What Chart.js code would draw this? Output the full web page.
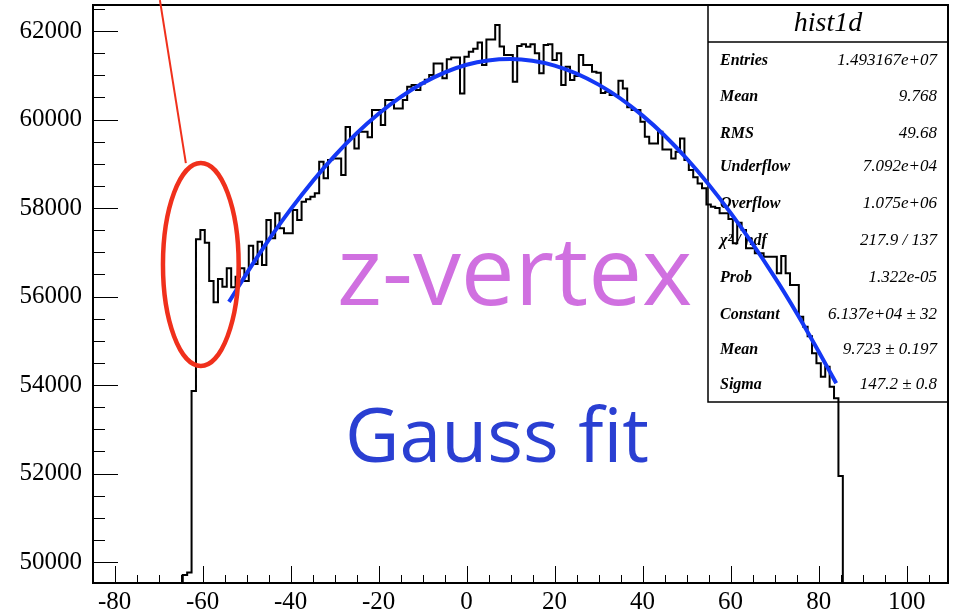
<!DOCTYPE html>
<html>
<head>
<meta charset="utf-8">
<script src="https://cdn.jsdelivr.net/npm/chart.js@4.4.1/dist/chart.umd.min.js"></script>
<style>
    html, body { margin: 0; padding: 0; background: #fff; }
    canvas { display: block; }
</style>
</head>
<body>
<canvas id="graficoVertice" width="960" height="613"></canvas>
<script>
// histograma: centro del primer bin con contenido y ancho de bin
const binStart = -64;
const binWidth = 1;
const counts = [
    49706, 49760, 53865, 57293, 57503, 57216, 56351, 55869, 56396, 56222,
    56638, 56208, 56450, 56640, 56350, 57148, 56735, 57239, 56712, 57729,
    57316, 57880, 57541, 57428, 57428, 57955, 57729, 58143, 58197, 58256,
    58333, 59047, 58672, 59085, 59123, 59123, 58746, 59830, 59598, 59349,
    59725, 59725, 59598, 60215, 60215, 59876, 60441, 60441, 60253, 60253,
    60441, 60743, 60780, 60667, 60818, 60900, 61006, 61270, 61270, 60932,
    61361, 61406, 61406, 60592, 61420, 61533, 61600, 61744, 61232, 61812,
    61812, 62136, 61650, 61458, 61458, 60855, 61662, 61700, 61646, 61700,
    61497, 61045, 61684, 61700, 61345, 61497, 60780, 61194, 60893, 60984,
    61458, 61232, 61232, 61081, 61058, 60600, 60630, 60554, 60554, 60878,
    60700, 60276, 60215, 60215, 59951, 59612, 59461, 59461, 59725, 59325,
    59325, 59121, 59271, 59574, 59085, 58859, 58694, 58558, 58450, 58080,
    58030, 58000, 57880, 57880, 57750, 57203, 57668, 57503, 57089, 57089,
    56976, 56976, 56900, 56900, 56900, 56525, 56916, 56525, 56260, 56260,
    55544, 55318, 55100, 54716, 54490, 54188, 54414, 53962, 53700, 51944
];

// curva del ajuste gaussiano
const fitX = [-54, -48, -40, -30, -20, -10, 0, 10, 20, 30, 40, 50, 60, 70, 75, 80, 84];
const fitY = [55880, 56830, 57970, 59180, 60130, 60820, 61240, 61370, 61220, 60790, 60090, 59120, 57890, 56440, 55630, 54760, 54040];

const xTickLabels = [-80, -60, -40, -20, 0, 20, 40, 60, 80, 100];
const yTickLabels = [50000, 52000, 54000, 56000, 58000, 60000, 62000];

const statsTitle = 'hist1d';
const statsLabels = ['Entries', 'Mean', 'RMS', 'Underflow', 'Overflow', 'χ² / ndf', 'Prob', 'Constant', 'Mean', 'Sigma'];
const statsValues = ['1.493167e+07', '9.768', '49.68', '7.092e+04', '1.075e+06', '217.9 / 137', '1.322e-05', '6.137e+04 ± 32', '9.723 ± 0.197', '147.2 ± 0.8'];

document.addEventListener("DOMContentLoaded", () => {
    renderizarHistograma();
});

function construirPuntosHistograma() {
    const puntos = [{ x: -84.5, y: 0 }];
    counts.forEach((c, i) => {
        puntos.push({ x: binStart + i * binWidth - binWidth / 2, y: c });
    });
    puntos.push({ x: binStart + counts.length * binWidth - binWidth / 2, y: 0 });
    puntos.push({ x: 109.5, y: 0 });
    return puntos;
}

const marcoRoot = {
    id: 'marcoRoot',
    beforeDatasetsDraw(chart) {
        const ctx = chart.ctx;
        const area = chart.chartArea;
        ctx.save();

        // caja de estadisticas
        const bx = 708, by = area.top, bw = area.right - 708, bh = 397;
        ctx.strokeStyle = '#000';
        ctx.lineWidth = 1.5;
        ctx.strokeRect(bx, by, bw, bh);
        ctx.beginPath();
        ctx.moveTo(bx, 42);
        ctx.lineTo(bx + bw, 42);
        ctx.stroke();

        ctx.fillStyle = '#000';
        ctx.textAlign = 'center';
        ctx.textBaseline = 'middle';
        ctx.font = "italic 28px 'Liberation Serif'";
        ctx.fillText(statsTitle, bx + bw / 2, 24);

        const filas = [61, 97, 134, 167, 204, 241, 278, 315, 350, 385];
        statsLabels.forEach((etq, i) => {
            ctx.textAlign = 'left';
            ctx.font = "bold italic 16px 'Liberation Serif'";
            ctx.fillText(etq, 720, filas[i]);
            ctx.textAlign = 'right';
            ctx.font = "italic 17px 'Liberation Serif'";
            ctx.fillText(statsValues[i], 937, filas[i]);
        });

        // textos grandes
        ctx.textAlign = 'left';
        ctx.textBaseline = 'alphabetic';
        ctx.font = "96px 'Open Sans'";
        ctx.fillStyle = '#d070e0';
        ctx.fillText('z-vertex', 337, 305);
        ctx.font = "75px 'Open Sans'";
        ctx.fillStyle = '#2a3fd2';
        ctx.fillText('Gauss fit', 345, 462);
        ctx.restore();
    },
    afterDatasetsDraw(chart) {
        const ctx = chart.ctx;
        const area = chart.chartArea;
        const xs = chart.scales.x;
        const ys = chart.scales.y;
        ctx.save();

        // marco
        ctx.strokeStyle = '#000';
        ctx.lineWidth = 2;
        ctx.strokeRect(area.left, area.top, area.right - area.left, area.bottom - area.top);

        // marcas del eje x (hacia dentro)
        ctx.lineWidth = 1;
        for (let v = -85; v <= 105; v += 5) {
            const px = Math.round(xs.getPixelForValue(v)) + 0.5;
            const largo = v % 20 === 0 ? 17 : 8;
            ctx.beginPath();
            ctx.moveTo(px, area.bottom);
            ctx.lineTo(px, area.bottom - largo);
            ctx.stroke();
        }
        // marcas del eje y
        for (let v = 49500; v <= 62500; v += 500) {
            if (v < ys.min || v > ys.max) continue;
            const py = Math.round(ys.getPixelForValue(v)) + 0.5;
            const largo = v % 2000 === 0 ? 25 : 12;
            ctx.beginPath();
            ctx.moveTo(area.left, py);
            ctx.lineTo(area.left + largo, py);
            ctx.stroke();
        }

        // elipse roja y linea
        ctx.strokeStyle = '#f0301c';
        ctx.lineWidth = 4.5;
        const cx = xs.getPixelForValue(-60.4);
        const cy = ys.getPixelForValue(56724);
        const rx = xs.getPixelForValue(-60.4 + 8.6) - cx;
        const ry = cy - ys.getPixelForValue(56724 + 2294);
        ctx.beginPath();
        ctx.ellipse(cx, cy, rx, ry, 0, 0, Math.PI * 2);
        ctx.stroke();

        ctx.lineWidth = 2;
        ctx.beginPath();
        ctx.moveTo(xs.getPixelForValue(-69.7), ys.getPixelForValue(62701));
        ctx.lineTo(xs.getPixelForValue(-63.8), ys.getPixelForValue(59017));
        ctx.stroke();
        ctx.restore();
    }
};

function renderizarHistograma() {
    const canvas = document.getElementById('graficoVertice');
    const ctx = canvas.getContext('2d');

    new Chart(ctx, {
        type: 'line',
        data: {
            datasets: [
                {
                    data: fitX.map((x, i) => ({ x: x, y: fitY[i] })),
                    borderColor: '#1438f5',
                    borderWidth: 4,
                    pointRadius: 0,
                    fill: false,
                    cubicInterpolationMode: 'monotone'
                },
                {
                    data: construirPuntosHistograma(),
                    borderColor: '#000',
                    borderWidth: 2,
                    pointRadius: 0,
                    fill: false,
                    stepped: 'before'
                }
            ]
        },
        options: {
            responsive: false,
            animation: false,
            devicePixelRatio: 1,
            layout: {
                padding: { top: 5, right: 12, left: 0, bottom: 0 }
            },
            plugins: {
                legend: { display: false },
                tooltip: { enabled: false }
            },
            scales: {
                x: {
                    type: 'linear',
                    min: -84.9,
                    max: 109.4,
                    grid: { display: false, drawTicks: false },
                    border: { display: false },
                    afterBuildTicks: (scale) => {
                        scale.ticks = xTickLabels.map(v => ({ value: v }));
                    },
                    afterFit: (scale) => {
                        scale.height = 30;
                        scale.paddingLeft = 0;
                        scale.paddingRight = 0;
                    },
                    ticks: {
                        autoSkip: false,
                        maxRotation: 0,
                        padding: 4,
                        color: '#000',
                        font: { family: "'Liberation Serif'", size: 25 },
                        callback: (value) => String(value)
                    }
                },
                y: {
                    type: 'linear',
                    min: 49525,
                    max: 62590,
                    grid: { display: false, drawTicks: false },
                    border: { display: false },
                    afterBuildTicks: (scale) => {
                        scale.ticks = yTickLabels.map(v => ({ value: v }));
                    },
                    afterFit: (scale) => {
                        scale.width = 93;
                        scale.paddingTop = 0;
                        scale.paddingBottom = 0;
                    },
                    ticks: {
                        autoSkip: false,
                        padding: 11,
                        color: '#000',
                        font: { family: "'Liberation Serif'", size: 25 },
                        callback: (value) => String(value)
                    }
                }
            }
        },
        plugins: [marcoRoot]
    });
}
</script>
</body>
</html>
